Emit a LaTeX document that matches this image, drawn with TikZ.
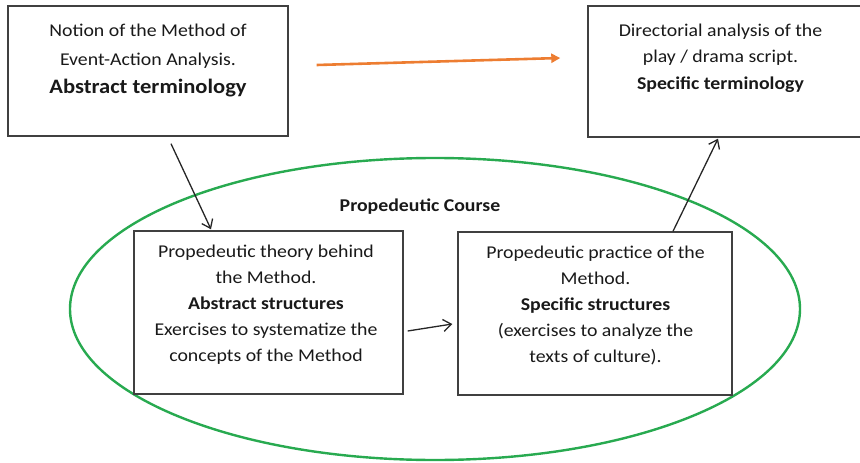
\documentclass[tikz,border=0pt]{standalone}
\usepackage{fontspec}
\setmainfont{Carlito}[FakeStretch=1.1]
\usepackage{tikz}
\usetikzlibrary{arrows.meta}
\usetikzlibrary{shapes.geometric}
\usetikzlibrary{positioning}
\usetikzlibrary{calc}
\definecolor{course_green}{RGB}{40,170,80}
\definecolor{link_orange}{RGB}{237,125,49}
\tikzstyle{box}=[rectangle, draw=black!75, line width=1.4pt, inner sep=0pt]
\tikzstyle{box_text}=[align=center, inner sep=0pt, text=black!90, font=\fontsize{18}{26}\selectfont]
\tikzstyle{link}=[draw=black!85, line width=1.3pt, -{Straight Barb[length=8pt,width=12pt]}]
\tikzstyle{link_orange}=[draw=link_orange, line width=2.6pt, -{Triangle[length=9pt,width=9pt]}]

\begin{document}
\begin{tikzpicture}[x=1pt, y=-1pt]
              \useasboundingbox (0,0) rectangle (860,463);
              \node[ellipse, draw=course_green, line width=2.4pt, minimum width=730pt, minimum height=302pt] (course) at (435,309){};
              \node[font=\fontsize{18}{22}\selectfont\bfseries, text=black!90] (course_label) at (420,207){Propedeutic Course};
              \node[box, minimum width=280pt, minimum height=130pt] (notion) at (148,71){};
              \node[box_text, font=\fontsize{18}{28.5}\selectfont] (notion_text) at (148,60.5){Notion of the Method of\\Event-Action Analysis.\\{\fontsize{20.5}{28.5}\selectfont\bfseries Abstract terminology}};
              \node[box, minimum width=290pt, minimum height=131pt] (directorial) at (733,71.5){};
              \node[box_text, font=\fontsize{18}{26.7}\selectfont] (directorial_text) at (720.5,58){Directorial analysis of the\\play / drama script.\\\textbf{Specific terminology}};
              \node[box, minimum width=269pt, minimum height=163pt] (theory) at (268.5,312.5){};
              \node[box_text] (theory_text) at (266,305){Propedeutic theory behind\\the Method.\\\textbf{Abstract structures}\\Exercises to systematize the\\concepts of the Method};
              \node[box, minimum width=274pt, minimum height=163pt] (practice) at (595,313.5){};
              \node[box_text] (practice_text) at (595.5,305.5){Propedeutic practice of the\\Method.\\\textbf{Specific structures}\\(exercises to analyze the\\texts of culture).};
              \draw[link_orange]($(notion.east)+(28,-6)$) -- ($(directorial.west)+(-27,-13.5)$);
              \draw[link]($(notion.south)+(23,7)$) -- ($(theory.north)+(-57.5,-1)$);
              \draw[link]($(theory.east)+(4,18.5)$) -- ($(practice.west)+(-5,10.5)$);
              \draw[link]($(practice.north)+(78,0)$) -- ($(directorial.south)+(-15,1)$);
            \end{tikzpicture}
\end{document}
